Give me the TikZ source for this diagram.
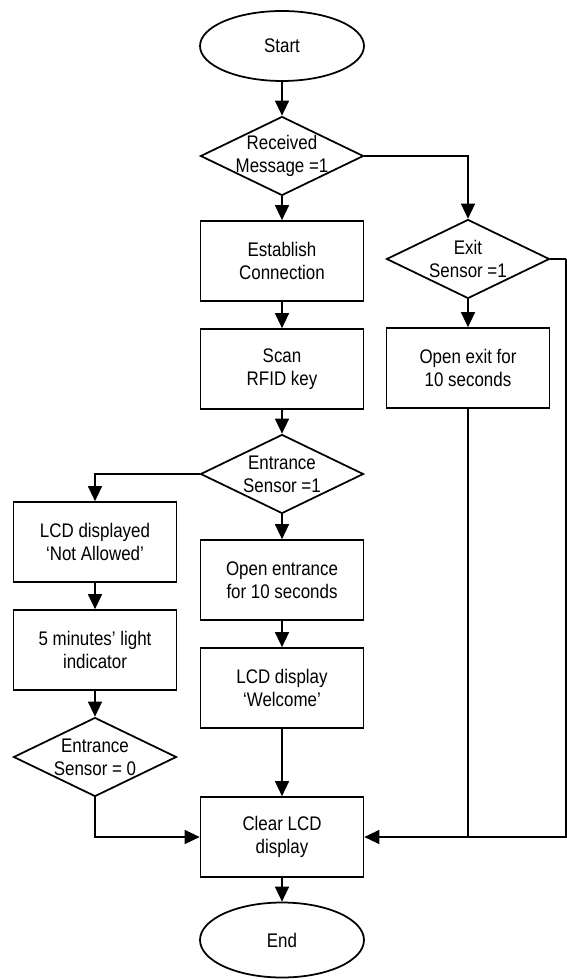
\documentclass[tikz,border=0pt]{standalone}
\usepackage{fontspec}
\setmainfont{Liberation Sans}[FakeStretch=0.86]
\usepackage{tikz}
\usetikzlibrary{shapes,shapes.geometric,arrows.meta,positioning,calc}

\begin{document}
\begin{tikzpicture}[x=0.02cm, y=-0.02cm,
        every node/.style={font=\fontsize{11.2}{13}\selectfont, align=center},
        terminal/.style={ellipse, draw, line width=1pt, minimum width=3.28cm, minimum height=1.4cm, inner sep=0pt},
        process/.style={rectangle, draw, line width=1pt, minimum width=3.26cm, minimum height=1.6cm, inner sep=0pt},
        decision/.style={diamond, draw, line width=1pt, aspect=2.06, inner sep=-2pt, minimum width=3.26cm, minimum height=1.58cm},
        flow/.style={line width=0.6pt, -{Triangle[length=8.5pt,width=8pt]}},
        joinline/.style={line width=0.6pt}]
    \useasboundingbox (0,0) rectangle (567,979);

    % main column
    \node[terminal] (start) at (282,46) {Start};
    \node[decision] (recv) at (282,156) {Received\\Message =1};
    \node[process] (est) at (282,261) {Establish\\Connection};
    \node[process] (scan) at (282,369) {Scan\\RFID key};
    \node[decision] (entr) at (282,474) {Entrance\\Sensor =1};
    \node[process] (openent) at (282,580) {Open entrance\\for 10 seconds};
    \node[process] (welcome) at (282,688) {LCD display\\`Welcome'};
    \node[process] (clear) at (282,837) {Clear LCD\\display};
    \node[terminal, minimum height=1.5cm] (end) at (282,940) {End};

    % left column
    \node[process] (notallow) at (95,542) {LCD displayed\\`Not Allowed'};
    \node[process] (fivemin) at (95,650) {5 minutes' light\\indicator};
    \node[decision] (entr0) at (95,757) {Entrance\\Sensor = 0};

    % right column
    \node[decision] (exitd) at (468,259) {Exit\\Sensor =1};
    \node[process] (openexit) at (468,368) {Open exit for\\10 seconds};
    \coordinate (rtop) at (566,259);

    % connectors
    \draw[flow] (start) -- (recv);
    \draw[flow] (recv) -- (est);
    \draw[flow] (est) -- (scan);
    \draw[flow] (scan) -- (entr);
    \draw[flow] (entr) -- (openent);
    \draw[flow] (openent) -- (welcome);
    \draw[flow] (welcome) -- (clear);
    \draw[flow] (clear) -- (end);

    \draw[flow] (entr.west) -| (notallow.north);
    \draw[flow] (notallow) -- (fivemin);
    \draw[flow] (fivemin) -- (entr0);
    \draw[flow] (entr0.south) |- (clear.west);

    \draw[flow] (recv.east) -| (exitd.north);
    \draw[flow] (exitd) -- (openexit);
    \draw[joinline] (exitd.east) -- (rtop);
    \draw[flow] (rtop) |- (clear.east);
    \draw[joinline] (openexit.south) -- (openexit.south |- clear.east);
\end{tikzpicture}
\end{document}
